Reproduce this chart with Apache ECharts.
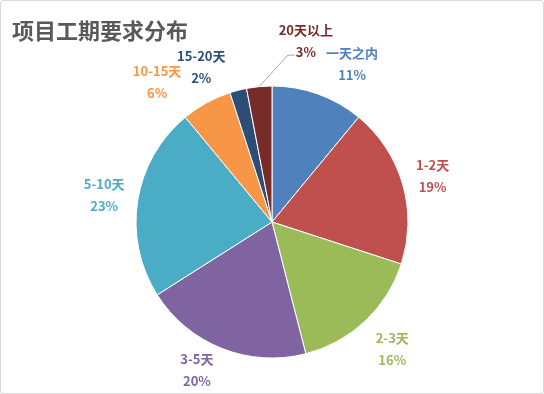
<!DOCTYPE html>
<html>
<head>
<meta charset="utf-8">
<script src="https://cdn.jsdelivr.net/npm/echarts@6/dist/echarts.min.js"></script>
<style>
html,body{margin:0;padding:0;background:#fff;}
#c{width:544px;height:394px;box-sizing:border-box;border:1px solid #d9d9d9;border-radius:3px;}
</style>
</head>
<body>
<div id="c"></div>
<script>
// ---- data ----
var categories = ['一天之内', '1-2天', '2-3天', '3-5天', '5-10天', '10-15天', '15-20天', '20天以上'];
var values = [11, 19, 16, 20, 23, 6, 2, 3];
var titleText = '项目工期要求分布';

// ---- style / layout ----
var colors = ['#4F81BD', '#C0504D', '#9BBB59', '#8064A2', '#4BACC6', '#F79646', '#2C4D75', '#772C2A'];
var CX = 271, CY = 221, R = 136;
var labelAngleShift = [7.1, 0.3, -0.2, 5.3, 0.1, -10.6, -10.2, 16.0];
var labelRadius = [177, 167, 175, 166, 170, 181, 170, 184];
var leaderLineItems = [false, false, false, false, false, false, false, true];

var total = values.reduce(function (a, b) { return a + b; }, 0);
var midAngles = [];
(function () {
  var acc = 0;
  for (var i = 0; i < values.length; i++) {
    midAngles.push((acc + values[i] / 2) / total * 360);
    acc += values[i];
  }
})();

function polar(angleDeg, r) {
  var a = angleDeg * Math.PI / 180;
  return [CX + r * Math.sin(a), CY - r * Math.cos(a)];
}

var data = categories.map(function (name, i) {
  return {
    name: name,
    value: values[i],
    itemStyle: { color: colors[i] },
    label: { color: colors[i] },
    labelLine: { show: leaderLineItems[i] }
  };
});

var chart = echarts.init(document.getElementById('c'), null, { renderer: 'canvas' });
chart.setOption({
  animation: false,
  title: {
    text: titleText,
    left: 6,
    top: 12,
    textStyle: {
      fontFamily: 'Noto Sans CJK SC',
      fontSize: 22,
      fontWeight: 'bold',
      color: '#595959',
      lineHeight: 26
    }
  },
  series: [{
    type: 'pie',
    center: [CX, CY],
    radius: R,
    startAngle: 90,
    clockwise: true,
    avoidLabelOverlap: false,
    data: data,
    itemStyle: { borderColor: '#ffffff', borderWidth: 1 },
    label: {
      show: true,
      position: 'outside',
      formatter: '{b}\n{c}%',
      fontFamily: 'Noto Sans CJK SC',
      fontSize: 13,
      fontWeight: 'bold',
      lineHeight: 22,
      align: 'center'
    },
    labelLine: {
      show: false,
      lineStyle: { color: '#A6A6A6', width: 1 }
    },
    labelLayout: function (params) {
      var i = params.dataIndex;
      var p = polar(midAngles[i] + labelAngleShift[i], labelRadius[i]);
      var res = { x: p[0], y: p[1], align: 'center', verticalAlign: 'middle' };
      if (leaderLineItems[i]) {
        var edge = polar(midAngles[i], R);
        res.labelLinePoints = [edge, [p[0] - 18, p[1] + 14], [p[0] - 11, p[1] + 14]];
      }
      return res;
    }
  }]
});
</script>
</body>
</html>
